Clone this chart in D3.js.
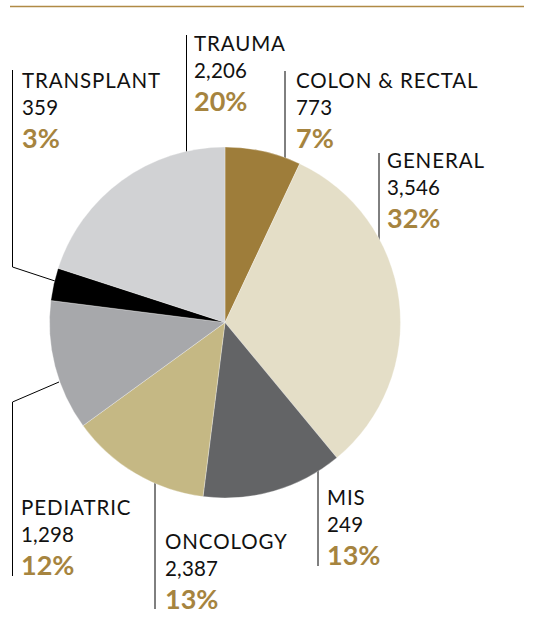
<!DOCTYPE html>
<html><head><meta charset="utf-8">
<script src="https://cdn.jsdelivr.net/npm/d3@7"></script>
<style>
html,body{margin:0;padding:0;background:#fff;}
svg{display:block;}
</style></head>
<body>
<svg id="chart" width="535" height="619"></svg>
<script>
const categories = ["COLON & RECTAL","GENERAL","MIS","ONCOLOGY","PEDIATRIC","TRANSPLANT","TRAUMA"];
const counts = ["773","3,546","249","2,387","1,298","359","2,206"];
const percents = [7,32,13,13,12,3,20];
const colors = ["#9e7d3a","#e4dec7","#636466","#c5b884","#a7a8ab","#000000","#d1d2d4"];

// label layout: line x, line end y, text x, first baseline; leader kind
const layout = [
  {lx:285, y1:71,  tx:296, by:88,  dir:"down"},
  {lx:379, y1:153, tx:387, by:168, dir:"down"},
  {lx:318, y1:566, tx:327, by:505, dir:"up"},
  {lx:155, y1:609, tx:165, by:549, dir:"up"},
  {lx:12.5,y1:576, tx:21,  by:515, dir:"up", bend:[402,59,382]},
  {lx:12.5,y1:70,  tx:22,  by:88,  dir:"down", bend:[267,55,281]},
  {lx:186.5,y1:35, tx:194, by:51,  dir:"down"}
];

const svg = d3.select("#chart");
const cx = 225, cy = 322.5, R = 175.5;

// top rule
svg.append("line").attr("x1",10).attr("x2",524).attr("y1",6.5).attr("y2",6.5)
  .attr("stroke","#b08a45").attr("stroke-width",1.3);

const pie = d3.pie().sort(null).value(d=>d)(percents);
const arc = d3.arc().innerRadius(0).outerRadius(R);

// leader lines
const leaders = svg.append("g").attr("stroke","#000").attr("stroke-width",1).attr("fill","none");
layout.forEach((L,i)=>{
  let pts;
  if (L.bend) {
    pts = [[L.lx,L.y1],[L.lx,L.bend[0]],[L.bend[1],L.bend[2]]];
  } else {
    const dx = L.lx - cx;
    const dy = Math.sqrt(R*R - dx*dx);
    const yEnd = L.dir==="down" ? cy - dy + 2 : cy + dy - 2;
    pts = [[L.lx,L.y1],[L.lx,yEnd]];
  }
  leaders.append("path").attr("d", d3.line()(pts));
});

// pie
svg.append("g").attr("transform",`translate(${cx},${cy})`)
  .selectAll("path").data(pie).join("path")
  .attr("d",arc).attr("fill",(d,i)=>colors[i])
  .attr("stroke","#fff").attr("stroke-width",0.3);

// labels
const lab = svg.append("g").style("font-family","Lato, 'Noto Sans', sans-serif");
layout.forEach((L,i)=>{
  lab.append("text").attr("x",L.tx).attr("y",L.by).text(categories[i])
    .attr("font-size",20.5).attr("letter-spacing",0.9).attr("fill","#111");
  lab.append("text").attr("x",L.tx).attr("y",L.by+26.5).text(counts[i])
    .attr("font-size",20.5).attr("letter-spacing",0.2).attr("fill","#111");
  lab.append("text").attr("x",L.tx).attr("y",L.by+60).text(percents[i]+"%")
    .attr("font-size",27).attr("font-weight",700).attr("fill","#a6843f");
});
</script>
</body></html>
